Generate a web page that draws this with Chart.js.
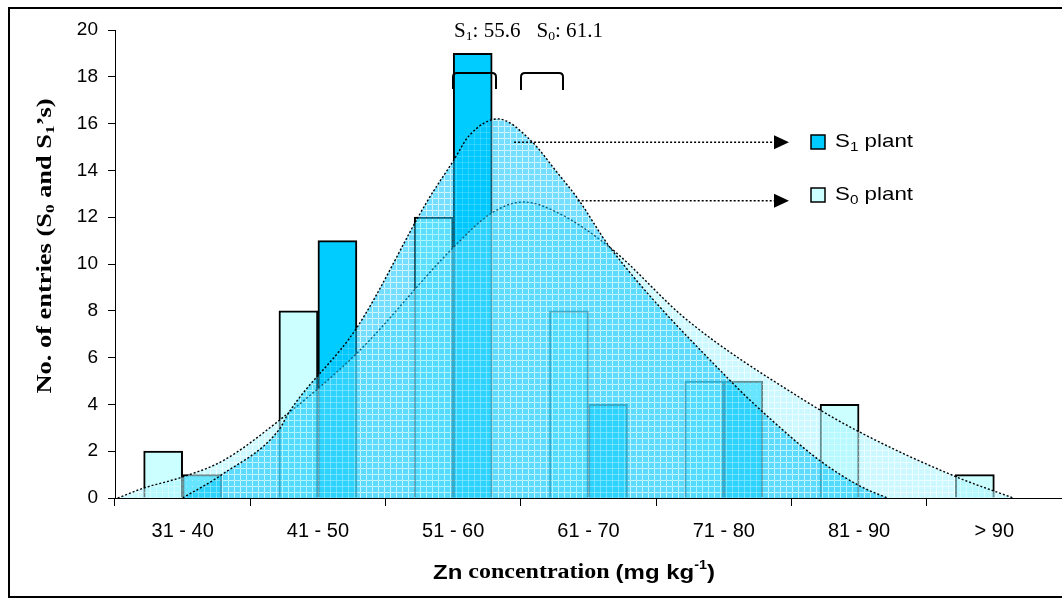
<!DOCTYPE html>
<html>
<head>
<meta charset="utf-8">
<script src="https://cdn.jsdelivr.net/npm/chart.js@4.4.1/dist/chart.umd.min.js"></script>
<style>
  html, body { margin: 0; padding: 0; background: #fff; }
  #wrap { width: 1062px; height: 600px; }
</style>
</head>
<body>
<div id="wrap"><canvas id="zn" width="1062" height="600"></canvas></div>
<script>
// categories and counts
var categories = ['31 - 40', '41 - 50', '51 - 60', '61 - 70', '71 - 80', '81 - 90', '> 90'];
var s0Counts = [2, 8, 12, 8, 5, 4, 1];
var s1Counts = [1, 11, 19, 4, 5, 0, 0];

// fitted curves, x in category units (0 = left edge of '31 - 40', 7 = right edge of '> 90')
var s1CurveX = [0.50, 0.79, 1.21, 1.29, 1.79, 2.31, 2.50, 2.62, 2.83, 3.07, 3.27, 3.42, 3.66, 4.55, 4.86, 5.21, 5.51, 5.71];
var s1CurveY = [0, 1.0, 2.9, 3.7, 7.3, 12.7, 14.4, 15.5, 16.2, 15.3, 13.9, 12.8, 10.7, 5.0, 3.3, 1.6, 0.5, 0];
var s0CurveX = [0.02, 0.21, 0.50, 0.80, 1.21, 1.79, 2.50, 2.79, 3.02, 3.27, 3.66, 4.23, 5.06, 5.51, 6.22, 6.64];
var s0CurveY = [0, 0.42, 0.9, 1.6, 3.3, 6.2, 10.7, 12.2, 12.65, 12.2, 10.7, 7.6, 4.3, 2.8, 0.9, 0];

var s1Mean = '55.6', s0Mean = '61.1';

function pts(xs, ys) {
  return xs.map(function(x, i) { return {x: x, y: ys[i]}; });
}

// cross hatch fill like the old excel pattern
function hatch(base, line) {
  var c = document.createElement('canvas');
  c.width = 6; c.height = 6;
  var g = c.getContext('2d');
  g.fillStyle = base;
  g.fillRect(0, 0, 6, 6);
  g.clearRect(0, 0, 6, 1);
  g.clearRect(0, 0, 1, 6);
  g.fillStyle = line;
  g.fillRect(0, 0, 6, 1);
  g.fillRect(0, 0, 1, 6);
  return g.createPattern(c, 'repeat');
}

// text made of runs (for sub/superscripts), squeezed to a width
function rich(ctx, runs, x, y, o) {
  o = o || {};
  ctx.save();
  ctx.translate(x, y);
  if (o.angle) ctx.rotate(o.angle);
  var total = 0;
  runs.forEach(function(r) { ctx.font = r.f; r.w = ctx.measureText(r.t).width; total += r.w; });
  if (o.width) ctx.scale(o.width / total, 1);
  var cx = o.align === 'center' ? -total / 2 : 0;
  ctx.fillStyle = '#000';
  ctx.textBaseline = 'middle';
  runs.forEach(function(r) { ctx.font = r.f; ctx.fillText(r.t, cx, r.dy || 0); cx += r.w; });
  ctx.restore();
}

function bracket(ctx, x1, x2, top, bottom) {
  var r = 4;
  ctx.beginPath();
  ctx.moveTo(x1, bottom);
  ctx.lineTo(x1, top + r);
  ctx.quadraticCurveTo(x1, top, x1 + r, top);
  ctx.lineTo(x2 - r, top);
  ctx.quadraticCurveTo(x2, top, x2, top + r);
  ctx.lineTo(x2, bottom);
  ctx.stroke();
}

var overlay = {
  id: 'overlay',
  afterDraw: function(chart) {
    var ctx = chart.ctx;
    var ys = chart.scales.y;
    var xc = chart.scales.xc;
    var TB = 'bold 20px "Liberation Serif"', TBs = 'bold 13px "Liberation Serif"';
    var AB = 'bold 20px "Liberation Sans"', ABs = 'bold 12px "Liberation Sans"';
    var T = '20px "Liberation Serif"', Ts = '13px "Liberation Serif"';
    var A = '19px "Liberation Sans"', As = '13px "Liberation Sans"';

    // outer frame
    ctx.save();
    ctx.strokeStyle = '#000';
    ctx.lineWidth = 2;
    ctx.strokeRect(9, 8, 1062, 589);
    ctx.restore();

    // axis titles
    rich(ctx, [
      {t: 'No. of entries (S', f: TB}, {t: '0', f: TBs, dy: 5},
      {t: ' and S', f: TB}, {t: '1', f: TBs, dy: 5}, {t: '\u2019s)', f: TB}
    ], 46, 246, {angle: -Math.PI / 2, align: 'center', width: 295});
    rich(ctx, [
      {t: 'Zn', f: AB}, {t: ' concentration ', f: TB}, {t: '(mg kg', f: AB},
      {t: '-1', f: ABs, dy: -7}, {t: ')', f: AB}
    ], 574, 573, {align: 'center', width: 282});

    // means
    rich(ctx, [
      {t: 'S', f: T}, {t: '1', f: Ts, dy: 5}, {t: ': ' + s1Mean + '   S', f: T},
      {t: '0', f: Ts, dy: 5}, {t: ': ' + s0Mean, f: T}
    ], 454, 32, {width: 149});

    ctx.save();
    ctx.strokeStyle = '#000';
    ctx.lineWidth = 2;
    bracket(ctx, 453, 496, 73, 89);
    bracket(ctx, 521, 563, 73, 90);
    ctx.restore();

    // legend with arrows from the curves
    var rows = [
      {y: ys.getPixelForValue(15.2), ly: 142, from: xc.getPixelForValue(2.95), fill: '#00CCFF', sub: '1'},
      {y: ys.getPixelForValue(12.7), ly: 195, from: xc.getPixelForValue(3.42), fill: '#CCFFFF', sub: '0'}
    ];
    rows.forEach(function(r) {
      ctx.save();
      ctx.strokeStyle = '#000';
      ctx.lineWidth = 1.5;
      ctx.setLineDash([2, 2]);
      ctx.beginPath();
      ctx.moveTo(r.from, r.y);
      ctx.lineTo(776, r.y);
      ctx.stroke();
      ctx.setLineDash([]);
      ctx.fillStyle = '#000';
      ctx.beginPath();
      ctx.moveTo(774, r.y - 7);
      ctx.lineTo(789, r.y);
      ctx.lineTo(774, r.y + 7);
      ctx.closePath();
      ctx.fill();
      ctx.fillStyle = r.fill;
      ctx.fillRect(811, r.ly - 7, 14, 14);
      ctx.strokeRect(811, r.ly - 7, 14, 14);
      ctx.restore();
      rich(ctx, [{t: 'S', f: A}, {t: r.sub, f: As, dy: 5}, {t: ' plant', f: A}], 835, r.ly, {width: 78});
    });
  }
};

new Chart(document.getElementById('zn'), {
  type: 'bar',
  data: {
    labels: categories,
    datasets: [{
      type: 'line',
      label: 'S1 curve',
      data: pts(s1CurveX, s1CurveY),
      xAxisID: 'xc',
      order: 1,
      borderColor: '#000',
      borderWidth: 1.4,
      borderDash: [2, 2],
      pointRadius: 0,
      cubicInterpolationMode: 'monotone',
      fill: 'origin',
      backgroundColor: hatch('rgba(0,195,255,0.55)', 'rgba(120,225,255,0.35)')
    }, {
      type: 'line',
      label: 'S0 curve',
      data: pts(s0CurveX, s0CurveY),
      xAxisID: 'xc',
      order: 2,
      borderColor: '#000',
      borderWidth: 1.4,
      borderDash: [2, 2],
      pointRadius: 0,
      cubicInterpolationMode: 'monotone',
      fill: 'origin',
      backgroundColor: hatch('rgba(170,245,255,0.6)', 'rgba(215,252,255,0.5)')
    }, {
      label: 'S0 plant',
      data: s0Counts,
      order: 3,
      backgroundColor: '#CCFFFF',
      borderColor: '#000',
      borderWidth: 2,
      barThickness: 39
    }, {
      label: 'S1 plant',
      data: s1Counts,
      order: 3,
      backgroundColor: '#00CCFF',
      borderColor: '#000',
      borderWidth: 2,
      barThickness: 39
    }]
  },
  options: {
    responsive: false,
    animation: false,
    layout: { padding: { top: 30, left: 0, right: 0, bottom: 0 } },
    plugins: {
      legend: { display: false },
      tooltip: { enabled: false }
    },
    scales: {
      x: {
        offset: true,
        grid: { offset: true, drawOnChartArea: false, color: '#000', tickLength: 8 },
        border: { color: '#000', width: 1 },
        ticks: { color: '#000', font: { family: 'Liberation Sans', size: 20 }, padding: 13, maxRotation: 0 },
        afterFit: function(s) { s.height = 102; }
      },
      xc: { type: 'linear', min: 0, max: 7, offset: false, display: false },
      y: {
        min: 0,
        max: 20,
        grid: { drawOnChartArea: false, color: '#000', tickLength: 7 },
        border: { color: '#000', width: 1 },
        ticks: { stepSize: 2, color: '#000', font: { family: 'Liberation Sans', size: 19 }, padding: 10 },
        afterFit: function(s) { s.width = 115; }
      }
    }
  },
  plugins: [overlay]
});
</script>
</body>
</html>
